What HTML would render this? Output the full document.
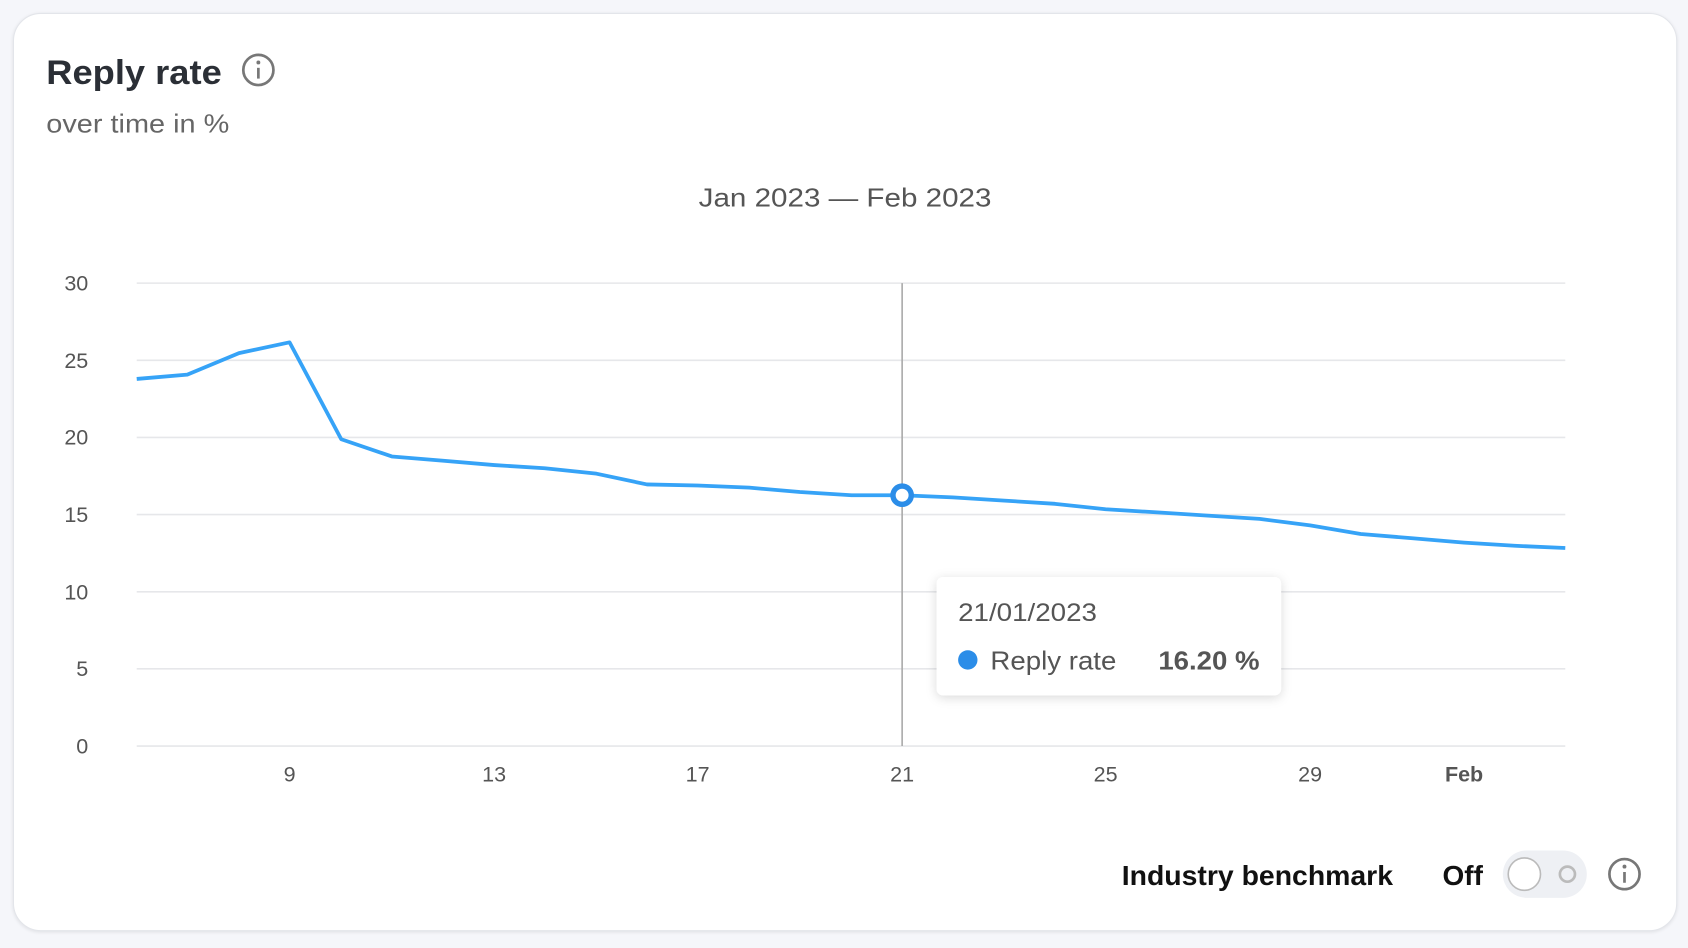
<!DOCTYPE html>
<html><head><style>
html,body{margin:0;padding:0;background:#f5f6fa;width:1688px;height:948px;overflow:hidden}
#w{position:absolute;left:0;top:0;width:1568px;height:881px;transform:scale(1.07653);transform-origin:0 0;font-family:"Liberation Sans",sans-serif}
.card{position:absolute;left:12px;top:12px;width:1544px;height:851px;background:#fff;border:1px solid #e3e5ea;border-radius:26px;box-shadow:0 1px 3px rgba(0,0,0,.08)}
</style></head><body><div id="w">
<div class="card"></div>
<svg width="1568" height="881" style="position:absolute;left:0;top:0" font-family="Liberation Sans, sans-serif">
<text x="43" y="78" font-size="32" font-weight="bold" fill="#2b2f36" textLength="163" lengthAdjust="spacingAndGlyphs">Reply rate</text>
<circle cx="240" cy="65" r="14" fill="none" stroke="#777" stroke-width="2.5"/>
<circle cx="240" cy="58" r="1.8" fill="#777"/><line x1="240" y1="63" x2="240" y2="73" stroke="#777" stroke-width="2.5"/>
<text x="43" y="123" font-size="24" fill="#666" textLength="170" lengthAdjust="spacingAndGlyphs">over time in %</text>
<text x="649" y="192" font-size="24" fill="#555" textLength="272" lengthAdjust="spacingAndGlyphs">Jan 2023 — Feb 2023</text>
<g stroke="#e6e7ea" stroke-width="1.5">
<line x1="127" y1="263" x2="1454" y2="263"/><line x1="127" y1="334.7" x2="1454" y2="334.7"/><line x1="127" y1="406.3" x2="1454" y2="406.3"/><line x1="127" y1="478" x2="1454" y2="478"/><line x1="127" y1="549.7" x2="1454" y2="549.7"/><line x1="127" y1="621.3" x2="1454" y2="621.3"/><line x1="127" y1="693" x2="1454" y2="693"/></g>
<g font-size="20" fill="#555" text-anchor="end">
<text x="82" y="270">30</text><text x="82" y="342">25</text><text x="82" y="413">20</text><text x="82" y="485">15</text><text x="82" y="557">10</text><text x="82" y="628">5</text><text x="82" y="700">0</text></g>
<g font-size="20" fill="#555" text-anchor="middle">
<text x="269" y="726">9</text><text x="459" y="726">13</text><text x="648" y="726">17</text><text x="838" y="726">21</text><text x="1027" y="726">25</text><text x="1217" y="726">29</text><text x="1360" y="726" font-weight="bold">Feb</text></g>
<line x1="838" y1="263" x2="838" y2="693" stroke="#aaa" stroke-width="1.5"/>
<polyline fill="none" stroke="#36a3f7" stroke-width="3.5" stroke-linejoin="round" points="127,352 174,348 222,328 269,318 317,408 364,424 412,428 459,432 506,435 554,440 601,450 648,451 696,453 743,457 791,460 838,460 885,462 933,465 980,468 1027,473 1075,476 1122,479 1170,482 1217,488 1264,496 1312,500 1360,504 1407,507 1454,509"/>
<circle cx="838" cy="460" r="8.5" fill="#fff" stroke="#2b8de8" stroke-width="5"/>
<defs><filter id="sh" x="-20%" y="-30%" width="140%" height="160%"><feDropShadow dx="0" dy="2" stdDeviation="5" flood-opacity="0.15"/></filter></defs>
<rect x="870" y="536" width="320" height="110" rx="6" fill="#fff" filter="url(#sh)"/>
<text x="890" y="577" font-size="23" fill="#555" textLength="129" lengthAdjust="spacingAndGlyphs">21/01/2023</text>
<circle cx="899" cy="613" r="9" fill="#2b8de8"/>
<text x="920" y="622" font-size="24" fill="#555" textLength="117" lengthAdjust="spacingAndGlyphs">Reply rate</text>
<text x="1076" y="622" font-size="24" font-weight="bold" fill="#555" textLength="94" lengthAdjust="spacingAndGlyphs">16.20 %</text>
<text x="1042" y="822" font-size="26" font-weight="bold" fill="#111" textLength="252" lengthAdjust="spacingAndGlyphs">Industry benchmark</text>
<text x="1340" y="822" font-size="26" font-weight="bold" fill="#111">Off</text>
<rect x="1396" y="790" width="78" height="44" rx="22" fill="#eef0f4"/>
<circle cx="1416" cy="812" r="15" fill="#fff" stroke="#bbb" stroke-width="1.5"/>
<circle cx="1456" cy="812" r="7" fill="none" stroke="#bbb" stroke-width="2.5"/>
<circle cx="1509" cy="812" r="14" fill="none" stroke="#777" stroke-width="2.5"/>
<circle cx="1509" cy="805" r="1.8" fill="#777"/><line x1="1509" y1="810" x2="1509" y2="820" stroke="#777" stroke-width="2.5"/>
</svg>
</div></body></html>
